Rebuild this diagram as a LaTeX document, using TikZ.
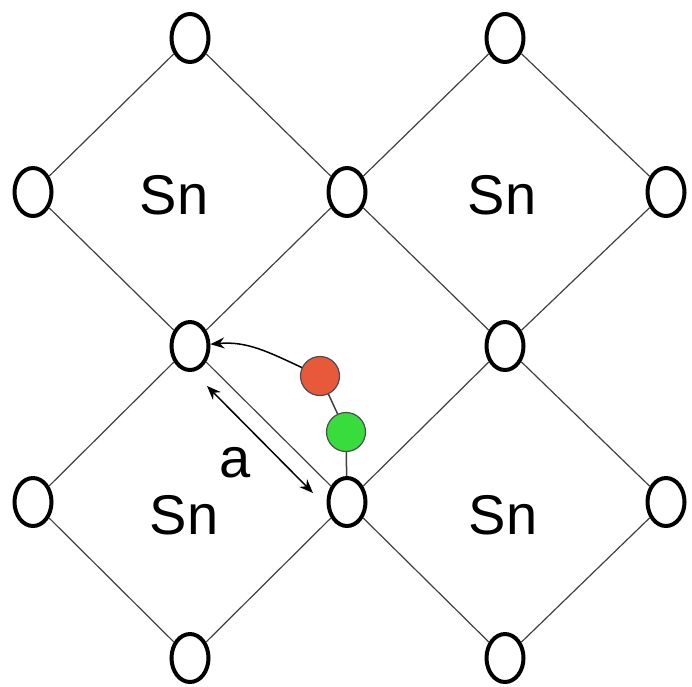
\documentclass[tikz,border=0pt]{standalone}
\usepackage{fontspec}
\setmainfont{Liberation Sans}
\usetikzlibrary{arrows.meta, shapes.geometric}
\definecolor{vacred}{HTML}{E8583A}
\definecolor{vacgreen}{HTML}{38DC3C}
\tikzset{
  osite/.style={ellipse, draw=black, line width=4pt, fill=white,
                minimum width=37pt, minimum height=48pt, inner sep=0pt},
  bond/.style={draw=black!75, line width=1.2pt},
  snlbl/.style={font=\fontsize{56}{60}\selectfont},
  ball/.style={circle, draw=black!70, line width=1.2pt, fill=#1,
               minimum size=39pt, inner sep=0pt},
  ball/.default=vacred,
  arr/.style={-{Stealth[length=14pt, width=11pt]}, line width=1.5pt, #1},
  arr/.default=black,
  darr/.style={{Stealth[length=14pt, width=11pt]}-{Stealth[length=14pt, width=11pt]},
               line width=1.5pt},
}

\begin{document}
\begin{tikzpicture}[x=1pt, y=-1pt]
  \useasboundingbox (0,0) rectangle (692,686);

  \node[osite] (t1) at (190,38) {};
  \node[osite] (t2) at (505,38) {};
  \node[osite] (m1) at (33,192) {};
  \node[osite] (m2) at (347,192) {};
  \node[osite] (m3) at (666,192) {};
  \node[osite] (c1) at (190,346) {};
  \node[osite] (c2) at (505,346) {};
  \node[osite] (l1) at (33,502) {};
  \node[osite] (l2) at (347,502) {};
  \node[osite] (l3) at (666,502) {};
  \node[osite] (b1) at (190,658) {};
  \node[osite] (b2) at (505,658) {};

  \draw[bond] (t1) -- (m1);
  \draw[bond] (t1) -- (m2);
  \draw[bond] (m1) -- (c1);
  \draw[bond] (m2) -- (c1);
  \draw[bond] (t2) -- (m2);
  \draw[bond] (t2) -- (m3);
  \draw[bond] (m2) -- (c2);
  \draw[bond] (m3) -- (c2);
  \draw[bond] (c1) -- (l1);
  \draw[bond] (c1) -- (l2);
  \draw[bond] (l1) -- (b1);
  \draw[bond] (l2) -- (b1);
  \draw[bond] (c2) -- (l2);
  \draw[bond] (c2) -- (l3);
  \draw[bond] (l2) -- (b2);
  \draw[bond] (l3) -- (b2);

  \node[snlbl] (sn1) at (174,195) {Sn};
  \node[snlbl] (sn2) at (502,195) {Sn};
  \node[snlbl] (sn3) at (184,515) {Sn};
  \node[snlbl] (sn4) at (503,515) {Sn};

  \node[ball] (red) at (320,376) {};
  \node[ball=vacgreen] (green) at (346,432) {};
  \draw[bond, line width=1.5pt] (red) -- (green);
  \draw[bond, line width=1.5pt] (green) -- (l2);
  \draw[arr] (red) to[out=155, in=5] (c1);

  \coordinate (a1) at (207,386);
  \coordinate (a2) at (313,493);
  \draw[darr] (a1) -- (a2);
  \node[snlbl] (alab) at (235,463) {a};
\end{tikzpicture}
\end{document}
